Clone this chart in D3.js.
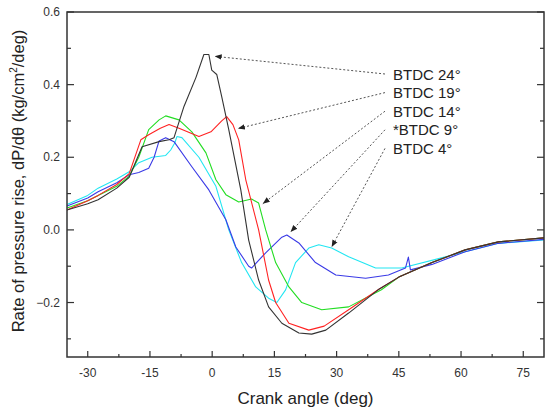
<!DOCTYPE html>
<html lang="en">
  <head>
    <meta charset="utf-8">
    <title>Rate of pressure rise vs crank angle</title>
    <style>
      body { margin: 0; background: #fff; }
      text { font-family: 'Liberation Sans', Arial, sans-serif; }
    </style>
  </head>
  <body>
    <div id="chart-area"></div>
    <script src="https://cdn.jsdelivr.net/npm/d3@7"></script>
    <script>
      const svg_width = 545;
      const svg_height = 413;
      const margin = {top: 12, right: 1, bottom: 56, left: 67};

      // series (crank angle in deg, dP/dθ in kg/cm²/deg)
      const angles_24 = [-35, -30, -27.5, -23, -20, -16.9, -12.8, -10.4, -9.2, -6.8, -3.9, -2.0, -0.8, -0.1, 1.1, 2.3, 4, 6.9, 8.8, 11.2, 13.6, 16.8, 20.9, 24, 27.4, 32.9, 40, 45, 53, 61, 69, 80];
      const rate_24 = [0.055, 0.072, 0.083, 0.115, 0.145, 0.229, 0.243, 0.248, 0.254, 0.34, 0.42, 0.483, 0.483, 0.44, 0.428, 0.367, 0.276, 0.11, -0.028, -0.138, -0.212, -0.257, -0.284, -0.287, -0.276, -0.229, -0.165, -0.13, -0.09, -0.055, -0.033, -0.022];

      const angles_19 = [-35, -30, -27.5, -23, -20, -17.2, -15.3, -12.5, -10.4, -8, -3.2, -0.3, 2.3, 3.5, 5, 6.4, 8.1, 11.2, 13.6, 15.3, 18.5, 23.3, 27, 32.9, 40, 45, 53, 61, 69, 80];
      const rate_19 = [0.055, 0.08, 0.095, 0.125, 0.155, 0.248, 0.262, 0.28, 0.29, 0.28, 0.257, 0.27, 0.30, 0.312, 0.29, 0.248, 0.138, 0.0, -0.138, -0.2, -0.257, -0.276, -0.265, -0.22, -0.165, -0.13, -0.09, -0.055, -0.033, -0.022];

      const angles_14 = [-35, -30, -27.5, -23, -20, -17.7, -15.3, -12.8, -11.2, -8, -4.9, -1.5, 0.9, 3.3, 6.4, 9.5, 11.2, 12.9, 15.3, 18.5, 21.6, 26.4, 32.9, 40.8, 45, 53, 61, 69, 80];
      const rate_14 = [0.06, 0.08, 0.095, 0.12, 0.148, 0.2, 0.276, 0.303, 0.314, 0.303, 0.27, 0.212, 0.138, 0.097, 0.077, 0.085, 0.074, 0.0, -0.09, -0.157, -0.2, -0.22, -0.212, -0.165, -0.13, -0.09, -0.055, -0.033, -0.022];

      const angles_9 = [-35, -30, -27.5, -23, -20, -17.7, -15.3, -14, -12.8, -11.2, -9.2, -4.9, -0.8, 3.3, 5.7, 8.8, 9.5, 12.9, 16.8, 18, 20.9, 24.9, 29.8, 37, 42.5, 46.6, 47.3, 47.8, 53, 61, 69, 80];
      const rate_9 = [0.066, 0.088, 0.105, 0.13, 0.152, 0.158, 0.17, 0.2, 0.245, 0.254, 0.243, 0.174, 0.11, 0.028, -0.047, -0.1, -0.105, -0.063, -0.02, -0.014, -0.036, -0.09, -0.124, -0.133, -0.124, -0.105, -0.075, -0.11, -0.095, -0.06, -0.037, -0.026];

      const angles_4 = [-35, -30, -27.5, -23, -20, -17.7, -14.5, -11.2, -10, -9, -8.5, -7.3, -3.2, 0.9, 4, 7.1, 10.5, 13.6, 15.6, 17.7, 20.1, 23.3, 25.7, 28.8, 32.9, 39.4, 45.7, 55.3, 61, 69, 80];
      const rate_4 = [0.07, 0.095, 0.115, 0.14, 0.16, 0.185, 0.2, 0.205, 0.22, 0.24, 0.257, 0.254, 0.2, 0.12, 0.0, -0.09, -0.157, -0.188, -0.2, -0.165, -0.09, -0.05, -0.041, -0.05, -0.074, -0.105, -0.105, -0.077, -0.06, -0.037, -0.028];

      const series_names = ['BTDC 4°', '*BTDC 9°', 'BTDC 14°', 'BTDC 19°', 'BTDC 24°'];
      const series_colors = ['#22e6f2', '#3a3ae6', '#22dd22', '#ff2222', '#333333'];
      const series_angles = [angles_4, angles_9, angles_14, angles_19, angles_24];
      const series_rates = [rate_4, rate_9, rate_14, rate_19, rate_24];

      // where each label's arrow points on its curve
      const label_order = ['BTDC 24°', 'BTDC 19°', 'BTDC 14°', '*BTDC 9°', 'BTDC 4°'];
      const arrow_angles = [0.6, 6.2, 12.2, 18.9, 28.8];
      const arrow_rates = [0.478, 0.279, 0.072, -0.006, -0.047];

      const x_ticks = [-30, -15, 0, 15, 30, 45, 60, 75];
      const y_ticks = [-0.2, 0.0, 0.2, 0.4, 0.6];

      const svg = d3.select('#chart-area')
        .append('svg')
        .attr('width', svg_width)
        .attr('height', svg_height);

      const x_scale = d3.scaleLinear()
        .domain([-35, 80])
        .range([margin.left, svg_width - margin.right]);

      const y_scale = d3.scaleLinear()
        .domain([-0.35, 0.6])
        .range([svg_height - margin.bottom, margin.top]);

      const x0 = x_scale.range()[0], x1 = x_scale.range()[1];
      const y0 = y_scale.range()[0], y1 = y_scale.range()[1];

      // curves
      const line = d3.line()
        .x(d => x_scale(d[0]))
        .y(d => y_scale(d[1]));

      series_names.forEach((name, i) => {
        const pts = series_angles[i].map((a, j) => [a, series_rates[i][j]]);
        svg.append('path')
          .datum(pts)
          .attr('fill', 'none')
          .attr('stroke', series_colors[i])
          .attr('stroke-width', 1.1)
          .attr('stroke-linejoin', 'round')
          .attr('d', line);
      });

      // frame
      svg.append('rect')
        .attr('x', x0).attr('y', y1)
        .attr('width', x1 - x0).attr('height', y0 - y1)
        .attr('fill', 'none')
        .attr('stroke', '#333')
        .attr('stroke-width', 1.5);

      const x_minor = d3.range(-37.5, 81, 7.5).filter(v => v > -35 && v < 80 && !x_ticks.includes(v));
      const y_minor = [-0.3, -0.1, 0.1, 0.3, 0.5];

      const tick_g = svg.append('g').attr('stroke', '#333').attr('stroke-width', 1.2);
      x_ticks.forEach(v => {
        tick_g.append('line').attr('x1', x_scale(v)).attr('x2', x_scale(v)).attr('y1', y0).attr('y2', y0 - 6);
      });
      x_minor.forEach(v => {
        tick_g.append('line').attr('x1', x_scale(v)).attr('x2', x_scale(v)).attr('y1', y0).attr('y2', y0 - 3);
      });
      y_ticks.forEach(v => {
        tick_g.append('line').attr('x1', x0).attr('x2', x0 + 7).attr('y1', y_scale(v)).attr('y2', y_scale(v));
        tick_g.append('line').attr('x1', x1).attr('x2', x1 - 7).attr('y1', y_scale(v)).attr('y2', y_scale(v));
      });
      y_minor.forEach(v => {
        tick_g.append('line').attr('x1', x0).attr('x2', x0 + 4).attr('y1', y_scale(v)).attr('y2', y_scale(v));
        tick_g.append('line').attr('x1', x1).attr('x2', x1 - 4).attr('y1', y_scale(v)).attr('y2', y_scale(v));
      });

      // tick labels
      svg.selectAll('.xlab').data(x_ticks).enter()
        .append('text')
        .attr('x', d => x_scale(d))
        .attr('y', y0 + 20)
        .attr('text-anchor', 'middle')
        .attr('font-size', '12px')
        .attr('fill', '#333')
        .text(d => d);

      svg.selectAll('.ylab').data(y_ticks).enter()
        .append('text')
        .attr('x', x0 - 7)
        .attr('y', d => y_scale(d) + 4)
        .attr('text-anchor', 'end')
        .attr('font-size', '12px')
        .attr('fill', '#333')
        .text(d => d3.format('.1f')(d));

      // axis titles
      svg.append('text')
        .attr('x', (x0 + x1) / 2)
        .attr('y', 404)
        .attr('text-anchor', 'middle')
        .attr('font-size', '17px')
        .attr('fill', '#222')
        .text('Crank angle (deg)');

      const ylab = svg.append('text')
        .attr('transform', 'translate(24,181) rotate(-90)')
        .attr('text-anchor', 'middle')
        .attr('font-size', '16.5px')
        .attr('fill', '#222');
      ylab.append('tspan').text('Rate of pressure rise, dP/dθ  (kg/cm');
      ylab.append('tspan').attr('font-size', '10px').attr('dy', -7).text('2');
      ylab.append('tspan').attr('dy', 7).text('/deg)');

      // labels with dotted leaders
      const defs = svg.append('defs');
      defs.append('marker')
        .attr('id', 'arrow')
        .attr('viewBox', '0 0 10 10')
        .attr('refX', 10).attr('refY', 5)
        .attr('markerWidth', 7).attr('markerHeight', 7)
        .attr('markerUnits', 'userSpaceOnUse')
        .attr('orient', 'auto')
        .append('path')
        .attr('d', 'M0,1 L10,5 L0,9 Z')
        .attr('fill', '#222');

      const label_x = 393;
      const label_y0 = 74;
      const label_step = 18.6;

      label_order.forEach((name, i) => {
        const ly = label_y0 + i * label_step;
        svg.append('line')
          .attr('x1', label_x - 8).attr('y1', ly)
          .attr('x2', x_scale(arrow_angles[i])).attr('y2', y_scale(arrow_rates[i]))
          .attr('stroke', '#555')
          .attr('stroke-width', 1)
          .attr('stroke-dasharray', '2,2')
          .attr('marker-end', 'url(#arrow)');
        svg.append('text')
          .attr('x', label_x)
          .attr('y', ly + 5.5)
          .attr('font-size', '15px')
          .attr('fill', '#222')
          .text(name);
      });
    </script>
  </body>
</html>
